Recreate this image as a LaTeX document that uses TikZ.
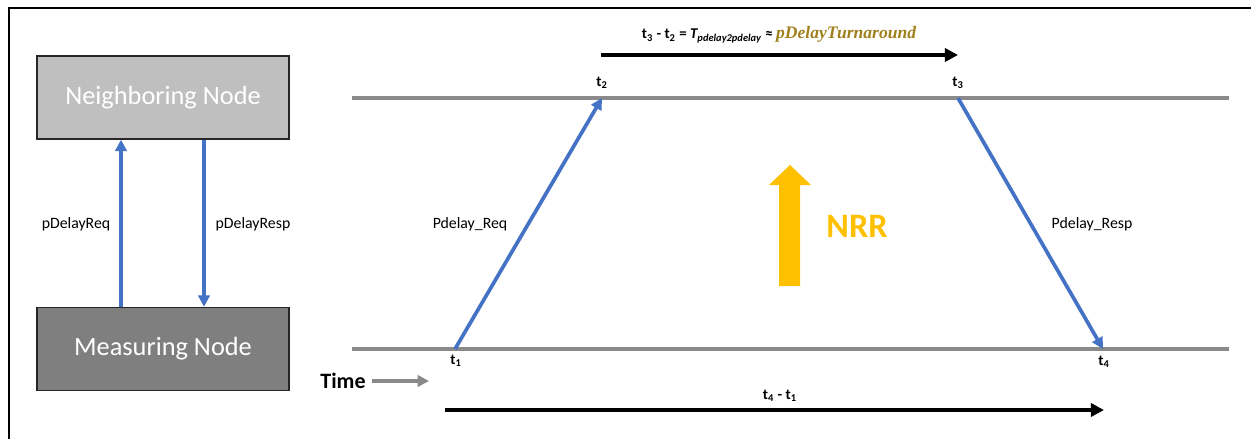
\documentclass[tikz,border=0pt]{standalone}
\usepackage{fontspec}
\setmainfont{Carlito}
\newfontfamily\serifbi{Liberation Serif}
\usetikzlibrary{arrows.meta}
\definecolor{nbgray}{HTML}{BFBFBF}
\definecolor{msgray}{HTML}{7F7F7F}
\definecolor{tlgray}{HTML}{8A8A8A}
\definecolor{msgblue}{HTML}{4472C4}
\definecolor{nrryellow}{HTML}{FFC000}
\definecolor{turnolive}{RGB}{160,128,28}
\tikzset{
  nodebox/.style={draw=black!85, line width=0.8pt, minimum width=5.04cm, minimum height=1.66cm, text=white, font=\fontsize{15}{17}\selectfont, inner sep=0pt},
  timeline/.style={draw=tlgray, line width=2.2pt},
  msg/.style={draw=msgblue, line width=2.1pt, -{Triangle[length=6.5pt,width=6.5pt]}},
  span/.style={draw=black, line width=2.6pt, -{Triangle[length=7.5pt,width=7.5pt]}},
  small/.style={font=\fontsize{9}{10}\selectfont, inner sep=0pt},
  tlab/.style={font=\bfseries\fontsize{8.5}{10}\selectfont, inner sep=0pt},
}
\begin{document}
\begin{tikzpicture}[x=0.02cm,y=-0.02cm]
\useasboundingbox (0,0) rectangle (1251,439);
\fill[white] (0,0) rectangle (1251,439);
% outer frame (extends beyond the picture on right and bottom)
\draw[black, line width=0.9pt] (9,450) -- (9,8) -- (1262,8);

% left panel
\node[nodebox, fill=nbgray] (nb) at (163,97.5) {Neighboring Node};
\node[nodebox, fill=msgray] (ms) at (163,349) {Measuring Node};
\coordinate (reqx) at (121,0);
\coordinate (respx) at (204,0);
\draw[msg] (ms.north -| reqx) -- (nb.south -| reqx);
\draw[msg] (nb.south -| respx) -- (ms.north -| respx);
\node[small] (lreq) at (76,224) {pDelayReq};
\node[small] (lresp) at (253,224) {pDelayResp};

% timelines
\coordinate (topL) at (352,98);
\coordinate (topR) at (1229,98);
\coordinate (botL) at (352,349);
\coordinate (botR) at (1229,349);
\draw[timeline] (topL) -- (topR);
\draw[timeline] (botL) -- (botR);

\coordinate (t1) at (455,349);
\coordinate (t2) at (602,98);
\coordinate (t3) at (958,98);
\coordinate (t4) at (1103,349);
\draw[msg] (t1) -- (t2);
\draw[msg] (t3) -- (t4);

\node[tlab] (lt1) at (456,361) {t\textsubscript{1}};
\node[tlab] (lt2) at (602,83) {t\textsubscript{2}};
\node[tlab] (lt3) at (958,83) {t\textsubscript{3}};
\node[tlab] (lt4) at (1104,362) {t\textsubscript{4}};

\node[small] (lpreq) at (470,224) {Pdelay\_Req};
\node[small] (lpresp) at (1092,224) {Pdelay\_Resp};

% turnaround span
\coordinate (sa) at (601,55);
\coordinate (sb) at (958,55);
\draw[span] (sa) -- (sb);
\node[inner sep=0pt, anchor=base] (lturn) at (779,39) {\bfseries\fontsize{8.5}{10}\selectfont t\textsubscript{3} - t\textsubscript{2} = \textit{T\textsubscript{pdelay2pdelay}} ≈ {\serifbi\itshape\fontsize{10}{12}\selectfont\color{turnolive}pDelayTurnaround}};

% total span
\coordinate (ta) at (445,410);
\coordinate (tb) at (1104,410);
\draw[span] (ta) -- (tb);
\node[tlab] (ltot) at (780,396) {t\textsubscript{4} - t\textsubscript{1}};

% time
\node[inner sep=0pt, font=\bfseries\fontsize{12.5}{14}\selectfont] (ltime) at (343,381) {Time};
\coordinate (timeend) at (429,381);
\draw[draw=tlgray, line width=2.2pt, -{Triangle[length=6.5pt,width=6.5pt]}] (ltime.east) ++(6,0) -- (timeend);

% NRR
\fill[nrryellow] (779,286) -- (779,185) -- (769,185) -- (790,165) -- (811,185) -- (800,185) -- (800,286) -- cycle;
\node[inner sep=0pt, text=nrryellow, font=\bfseries\fontsize{19.5}{22}\selectfont] (nrr) at (857,226) {NRR};
\end{tikzpicture}
\end{document}
